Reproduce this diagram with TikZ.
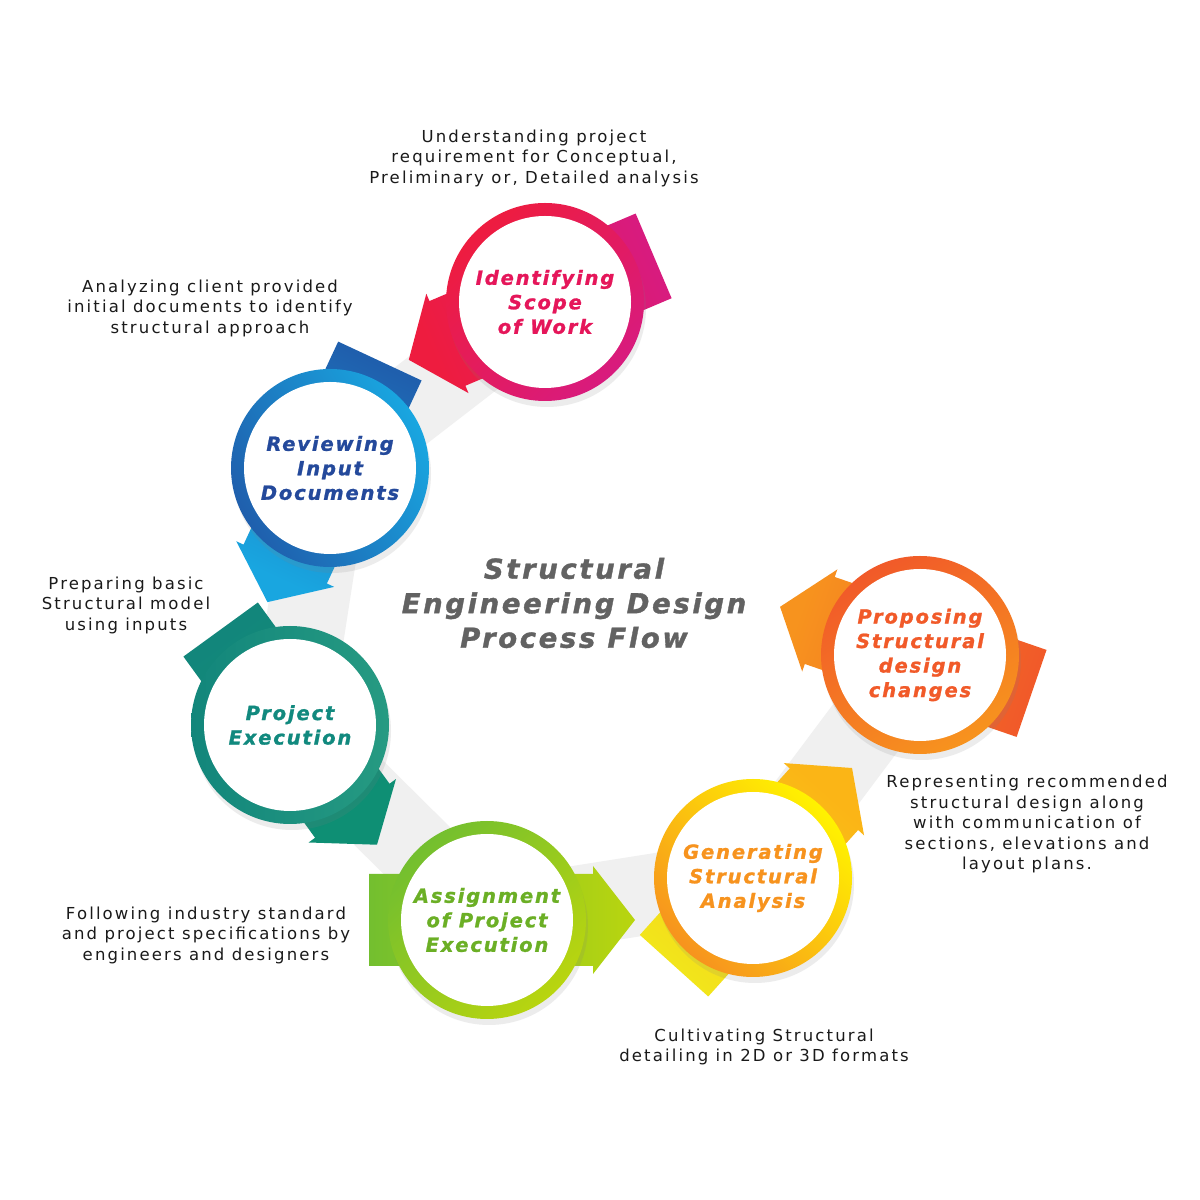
\documentclass[tikz,border=0pt]{standalone}
\usepackage{fontspec}
\usepackage{xcolor}
\usetikzlibrary{shadows}
\newfontfamily\descfont{DejaVu Sans}[LetterSpace=13]
\newfontfamily\headfont{DejaVu Sans}[LetterSpace=9.5, BoldItalicFeatures={FakeBold=1.2}]

\definecolor{idtail}{HTML}{D81B7E}
\definecolor{idhead}{HTML}{EE1C3F}
\definecolor{idtext}{HTML}{E5165A}
\definecolor{rvtail}{HTML}{1F5FAD}
\definecolor{rvhead}{HTML}{19A6E0}
\definecolor{rvtext}{HTML}{24499B}
\definecolor{pxtail}{HTML}{12867B}
\definecolor{pxhead}{HTML}{0E8F74}
\definecolor{pxtext}{HTML}{11897E}
\definecolor{astail}{HTML}{73BF2F}
\definecolor{ashead}{HTML}{B9D50F}
\definecolor{astext}{HTML}{6BAF25}
\definecolor{gntail}{HTML}{F2E51B}
\definecolor{gnhead}{HTML}{FBB516}
\definecolor{gntext}{HTML}{F7931E}
\definecolor{prtail}{HTML}{F15A29}
\definecolor{prhead}{HTML}{F7931E}
\definecolor{prtext}{HTML}{F15A29}
\definecolor{desctext}{HTML}{1A1A1A}
\definecolor{titlegray}{HTML}{626262}

\tikzset{
  ring/.style={circle, minimum size=198pt, inner sep=0pt,
    drop shadow={opacity=.15, shadow xshift=2pt, shadow yshift=-6pt}},
  disc/.style={circle, fill=white, minimum size=172pt, inner sep=0pt, align=center,
    font=\headfont\bfseries\itshape\fontsize{19.5}{24.5}\selectfont},
  desc/.style={align=center, text=desctext, font=\descfont\fontsize{16.5}{20.5}\selectfont},
  ribbon/.style={line width=80pt, draw=black!6},
  title/.style={align=center, text=titlegray,
    font=\headfont\bfseries\itshape\fontsize{27.5}{34.5}\selectfont},
}

\begin{document}
\begin{tikzpicture}[x=1pt, y=1pt]
  \useasboundingbox (0,0) rectangle (1200,1200);
  \fill[white] (0,0) rectangle (1200,1200);

  % centres of the six steps
  \coordinate (p1) at (545,898);
  \coordinate (p2) at (330,732);
  \coordinate (p3) at (290,475);
  \coordinate (p4) at (487,280);
  \coordinate (p5) at (753,322);
  \coordinate (p6) at (920,545);

  % grey band behind the steps
  \draw[ribbon] (p1) -- (p2) -- (p3) -- (p4) -- (p5) -- (p6);

  % block arrows through the circles
  \foreach \n/\a/\tc/\hc [evaluate=\a as \sa using \a+90] in
      {p1/203/idtail/idhead, p2/245/rvtail/rvhead, p3/306/pxtail/pxhead,
       p4/0/astail/ashead, p5/48/gntail/gnhead, p6/161/prtail/prhead} {
    \begin{scope}[shift={(\n)}, rotate=\a]
      \shade[left color=\tc, right color=\hc, shading angle=\sa]
        (-118,-46) -- (106,-46) -- (106,-54) -- (148,0) -- (106,54)
        -- (106,46) -- (-118,46) -- cycle;
    \end{scope}
  }

  % rings
  \node[ring, left color=idhead, right color=idtail, shading angle=45] (r1) at (p1) {};
  \node[ring, left color=rvtail, right color=rvhead, shading angle=120] (r2) at (p2) {};
  \node[ring, left color=pxtail, right color=pxhead!90!white, shading angle=90] (r3) at (p3) {};
  \node[ring, left color=astail, right color=ashead, shading angle=45] (r4) at (p4) {};
  \node[ring, left color=gntext, right color=yellow!90!orange, shading angle=135] (r5) at (p5) {};
  \node[ring, left color=prtail, right color=prhead, shading angle=30] (r6) at (p6) {};

  % step names
  \node[disc, text=idtext] (c1) at (r1) {Identifying\\Scope\\of Work};
  \node[disc, text=rvtext] (c2) at (r2) {Reviewing\\Input\\Documents};
  \node[disc, text=pxtext] (c3) at (r3) {Project\\Execution};
  \node[disc, text=astext] (c4) at (r4) {Assignment\\of Project\\Execution};
  \node[disc, text=gntext] (c5) at (r5) {Generating\\Structural\\Analysis};
  \node[disc, text=prtext] (c6) at (r6) {Proposing\\Structural\\design\\changes};

  % notes
  \node[desc] (d1) at (534,1042) {Understanding project\\requirement for Conceptual,\\Preliminary or, Detailed analysis};
  \node[desc] (d2) at (210,892) {Analyzing client provided\\initial documents to identify\\structural approach};
  \node[desc] (d3) at (126,595) {Preparing basic\\Structural model\\using inputs};
  \node[desc] (d4) at (206,265) {Following industry standard\\and project specifications by\\engineers and designers};
  \node[desc] (d5) at (764,153) {Cultivating Structural\\detailing in 2D or 3D formats};
  \node[desc] (d6) at (1027,376) {Representing recommended\\structural design along\\with communication of\\sections, elevations and\\layout plans.};

  \node[title] (t) at (574,597) {Structural\\Engineering Design\\Process Flow};
\end{tikzpicture}
\end{document}
